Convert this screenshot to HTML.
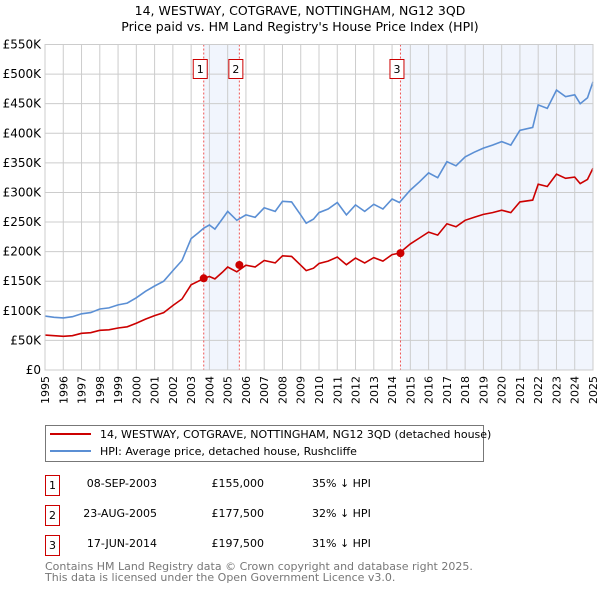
<!DOCTYPE html>
<html><head><meta charset="utf-8"><style>
body{margin:0;background:#fff;width:600px;height:590px;overflow:hidden;font-family:"DejaVu Sans","Liberation Sans",sans-serif}
svg text{font-family:"DejaVu Sans","Liberation Sans",sans-serif}
</style></head><body>
<svg id="c" width="600" height="590">
<text x="300" y="15" text-anchor="middle" font-size="12.5">14, WESTWAY, COTGRAVE, NOTTINGHAM, NG12 3QD</text>
<text x="300" y="31" text-anchor="middle" font-size="12.5">Price paid vs. HM Land Registry's House Price Index (HPI)</text>
<g id="plot"></g>
<g>
<rect x="45.5" y="425.5" width="438" height="36" fill="#fff" stroke="#777"/>
<line x1="50" y1="434" x2="91" y2="434" stroke="#cc0000" stroke-width="2"/>
<text x="100" y="438" font-size="11">14, WESTWAY, COTGRAVE, NOTTINGHAM, NG12 3QD (detached house)</text>
<line x1="50" y1="451" x2="91" y2="451" stroke="#5b8fd4" stroke-width="2"/>
<text x="100" y="455" font-size="11">HPI: Average price, detached house, Rushcliffe</text>
</g>
<g font-size="11">
<rect x="45.5" y="475.5" width="14" height="20" fill="#fff" stroke="#cc0000"/><text x="52.5" y="489" text-anchor="middle">1</text>
<text x="157" y="487" text-anchor="end">08-SEP-2003</text><text x="264" y="487" text-anchor="end">£155,000</text><text x="312" y="487">35% ↓ HPI</text>
<rect x="45.5" y="505.5" width="14" height="20" fill="#fff" stroke="#cc0000"/><text x="52.5" y="519" text-anchor="middle">2</text>
<text x="157" y="517" text-anchor="end">23-AUG-2005</text><text x="264" y="517" text-anchor="end">£177,500</text><text x="312" y="517">32% ↓ HPI</text>
<rect x="45.5" y="535.5" width="14" height="20" fill="#fff" stroke="#cc0000"/><text x="52.5" y="549" text-anchor="middle">3</text>
<text x="157" y="547" text-anchor="end">17-JUN-2014</text><text x="264" y="547" text-anchor="end">£197,500</text><text x="312" y="547">31% ↓ HPI</text>
</g>
<text x="45" y="570" font-size="11" fill="#777">Contains HM Land Registry data © Crown copyright and database right 2025.</text>
<text x="45" y="581" font-size="11" fill="#777">This data is licensed under the Open Government Licence v3.0.</text>
</svg>
<script>
const years=[1995,1995.5,1996,1996.5,1997,1997.5,1998,1998.5,1999,1999.5,2000,2000.5,2001,2001.5,2002,2002.5,2003,2003.4,2003.7,2004,2004.3,2004.7,2005,2005.5,2006,2006.5,2007,2007.6,2008,2008.5,2009,2009.3,2009.7,2010,2010.5,2011,2011.5,2012,2012.5,2013,2013.5,2014,2014.4,2015,2015.5,2016,2016.5,2017,2017.5,2018,2018.5,2019,2019.5,2020,2020.5,2021,2021.7,2022,2022.5,2023,2023.5,2024,2024.3,2024.7,2025];
const hpi=[91,89,88,90,95,97,103,105,110,113,122,133,142,150,168,185,222,232,240,245,238,255,268,253,262,258,274,268,285,284,262,248,255,266,272,283,262,279,268,280,272,289,283,304,318,333,325,352,345,360,368,375,380,386,380,405,410,448,442,473,462,465,450,460,487];
const price=[59,58,57,58,62,63,67,68,71,73,79,86,92,97,109,120,144,150,155,158,154,165,174,166,177,174,185,181,193,192,177,168,172,180,184,191,178,189,181,190,184,195,197.5,213,223,233,228,247,242,253,258,263,266,270,266,284,287,314,310,331,324,326,315,322,341];
const sales=[[2003.69,155,'1'],[2005.64,177.5,'2'],[2014.46,197.5,'3']];
const yTicks=[0,50,100,150,200,250,300,350,400,450,500,550];
const yLabels=['£0','£50K','£100K','£150K','£200K','£250K','£300K','£350K','£400K','£450K','£500K','£550K'];
const X0=45,X1=593,Y0=370,Y1=44.5;
const xs=y=>X0+(y-1995)/30*(X1-X0);
const ys=v=>Y0-v/550*(Y0-Y1);
const g=document.getElementById('plot');
const NS='http://www.w3.org/2000/svg';
function mk(t,a,p){const e=document.createElementNS(NS,t);for(const k in a)e.setAttribute(k,a[k]);(p||g).appendChild(e);return e;}
let sh=mk('rect',{x:xs(sales[0][0]),y:Y1,width:xs(sales[1][0])-xs(sales[0][0]),height:Y0-Y1,fill:'#f1f5fd'});


let sh2=mk('rect',{x:xs(sales[2][0]),y:Y1,width:X1-xs(sales[2][0]),height:Y0-Y1,fill:'#f1f5fd'});


for(let yr=1995;yr<=2025;yr++){
  const x=xs(yr);
  let l=mk('line',{x1:x,x2:x,y1:Y1,y2:Y0,stroke:'#cccccc','stroke-width':1});
  
  
  let t=mk('text',{x:0,y:0,'font-size':11,'text-anchor':'end',transform:`translate(${x+4},${Y0+6}) rotate(-90)`});
  t.textContent=yr;
  
  
}
yTicks.forEach((v,i)=>{
  const y=ys(v);
  let l=mk('line',{x1:X0,x2:X1,y1:y,y2:y,stroke:'#cccccc','stroke-width':1});
  
  
  let t=mk('text',{x:X0-4,y:y+4,'font-size':12,'text-anchor':'end'});
  t.textContent=yLabels[i];
  
  
});
sales.forEach(s=>{
  const x=xs(s[0]);
  let l=mk('line',{x1:x,x2:x,y1:Y1,y2:Y0,stroke:'#ee5555','stroke-width':1,'stroke-dasharray':'2,2'});
  
  
  let r=mk('rect',{x:x-10.5,y:59.5,width:14,height:19,fill:'#fff',stroke:'#cc0000'});
  
  
  let t=mk('text',{x:x-3.5,y:73,'font-size':11,'text-anchor':'middle'});
  t.textContent=s[2];
  
  
});
const pts=arr=>arr.map((v,i)=>xs(years[i]).toFixed(1)+','+ys(v).toFixed(1)).join(' ');
let hl=mk('polyline',{points:pts(hpi),fill:'none',stroke:'#5b8fd4','stroke-width':1.6});


let pl=mk('polyline',{points:pts(price),fill:'none',stroke:'#cc0000','stroke-width':1.6});


sales.forEach(s=>{
  let c=mk('circle',{cx:xs(s[0]),cy:ys(s[1]),r:4,fill:'#cc0000'});
  
  
});
let fr=mk('rect',{x:X0,y:Y1,width:X1-X0,height:Y0-Y1,fill:'none',stroke:'#cccccc'});


</script>
</body></html>
